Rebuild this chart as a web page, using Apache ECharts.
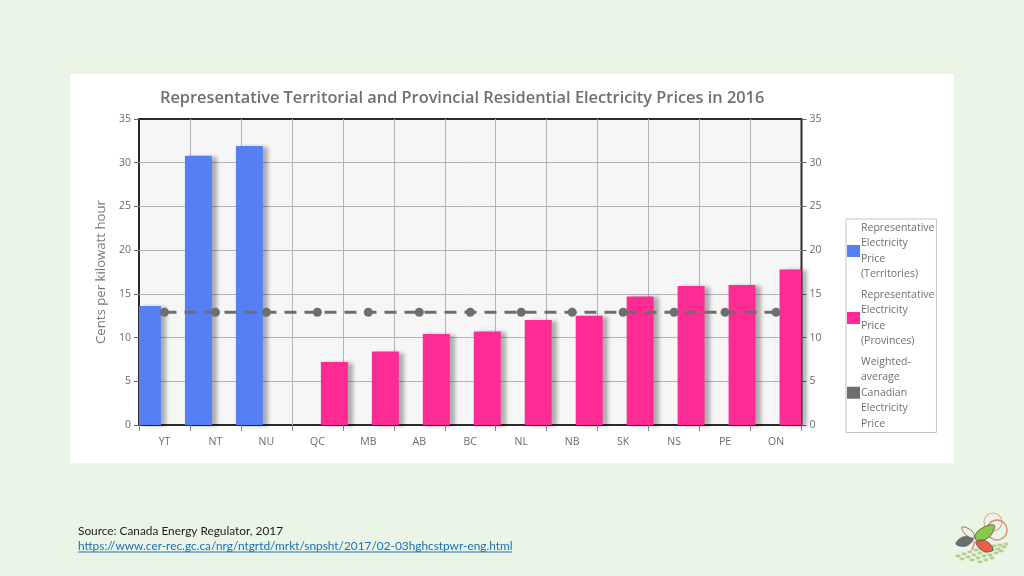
<!DOCTYPE html>
<html><head><meta charset="utf-8">
<style>html,body{margin:0;padding:0;background:#eaf5e6}#c{width:1024px;height:576px}</style>
<script src="https://cdn.jsdelivr.net/npm/echarts@6/dist/echarts.min.js"></script>
</head><body><div id="c"></div>
<script>
const categories=['YT','NT','NU','QC','MB','AB','BC','NL','NB','SK','NS','PE','ON'];
const territories=[13.6,30.8,31.9,null,null,null,null,null,null,null,null,null,null];
const provinces=[null,null,null,7.2,8.4,10.4,10.7,12.0,12.5,14.7,15.9,16.0,17.8];
const average=[12.9,12.9,12.9,12.9,12.9,12.9,12.9,12.9,12.9,12.9,12.9,12.9,12.9];
const seriesNames=['Representative\nElectricity\nPrice\n(Territories)','Representative\nElectricity\nPrice\n(Provinces)','Weighted-\naverage\nCanadian\nElectricity\nPrice'];
const chartTitle='Representative Territorial and Provincial Residential Electricity Prices in 2016';
const yName='Cents per kilowatt hour';
const yTicks={min:0,max:35,interval:5};
const sourceText='Source: Canada Energy Regulator, 2017';
const linkText='https://www.cer-rec.gc.ca/nrg/ntgrtd/mrkt/snpsht/2017/02-03hghcstpwr-eng.html';
const font='"Open Sans"';
const barShadow={shadowColor:'rgba(0,0,0,0.3)',shadowBlur:4,shadowOffsetX:5,shadowOffsetY:1};
const dots=[[958,556],[964,554],[970,552],[976,550],[982,549],[988,547],[994,546],[1000,545],[1006,544],
[962,559],[968,557],[974,555],[980,553],[986,552],[992,550],[998,549],[1004,547],
[972,560],[978,558],[984,556],[990,555],[996,553],[1001,551],[980,562],[986,560],[992,558]];
const chart=echarts.init(document.getElementById('c'),null,{renderer:'canvas'});
const axisLabel={color:'#6a6a6a',fontSize:10.5,fontFamily:font};
const split={show:true,showMinLine:false,showMaxLine:false,lineStyle:{color:'#b4b4b4',width:1}};
const leaf=(pts,fill)=>({type:'polygon',z:5,shape:{points:pts,smooth:0.4},style:{fill,stroke:'#444',lineWidth:.7}});
chart.setOption({
 animation:false,
 backgroundColor:'#eaf5e6',
 title:{text:chartTitle,left:155,top:85,textStyle:{color:'#6f6f6f',fontSize:16.35,fontWeight:600,fontFamily:font}},
 grid:{left:139,right:222.5,top:119,bottom:151,show:true,backgroundColor:'#f6f6f6',borderColor:'#2b2b2b',borderWidth:2,z:0},
 legend:{orient:'vertical',left:846,top:219,width:90,padding:[1,2,1,1],itemGap:5,itemWidth:13,itemHeight:12,
  backgroundColor:'#ffffff',borderColor:'#c4c4c4',borderWidth:1,borderRadius:0,
  textStyle:{color:'#6f6f6f',fontSize:10.5,lineHeight:15.5,fontFamily:font,padding:[0,0,0,-4]},
  data:[{name:seriesNames[0],icon:'rect'},{name:seriesNames[1],icon:'rect'},{name:seriesNames[2],icon:'rect'}]},
 xAxis:{type:'category',data:categories,boundaryGap:true,z:1,
  axisLine:{show:false},axisTick:{show:true,length:6,lineStyle:{color:'#888'},alignWithLabel:false},
  axisLabel:{...axisLabel,margin:12},
  splitLine:split},
 yAxis:[
  {type:'value',...yTicks,position:'left',z:1,name:yName,nameLocation:'middle',nameGap:31,
   nameTextStyle:{color:'#777',fontSize:13.2,fontFamily:font},
   axisLine:{show:false},axisTick:{show:true,length:5,lineStyle:{color:'#666'}},axisLabel:{...axisLabel,margin:8},
   splitLine:split},
  {type:'value',...yTicks,position:'right',z:1,
   axisLine:{show:false},axisTick:{show:true,length:5,lineStyle:{color:'#666'}},axisLabel:{...axisLabel,margin:8},
   splitLine:{show:false}}
 ],
 series:[
  {name:seriesNames[0],type:'bar',data:territories,barWidth:27,barGap:'26%',z:3,itemStyle:{color:'#5580f5',...barShadow}},
  {name:seriesNames[1],type:'bar',data:provinces,barWidth:27,barGap:'26%',z:3,itemStyle:{color:'#ff2b95',...barShadow}},
  {name:seriesNames[2],type:'line',data:average,z:4,symbol:'circle',symbolSize:9,
   lineStyle:{color:'#6e6e6e',width:3,type:[12,8]},itemStyle:{color:'#6e6e6e'}}
 ],
 graphic:[
  {type:'rect',z:-10,silent:true,shape:{x:70,y:74,width:884,height:389},style:{fill:'#ffffff'}},
  {type:'text',x:78,y:525,style:{text:sourceText,fill:'#1c1c1c',font:'11.85px Lato, sans-serif'}},
  {type:'text',x:78,y:540,style:{text:linkText,fill:'#1a6fb5',font:'11.85px Lato, sans-serif'}},
  {type:'line',shape:{x1:78,y1:552,x2:512,y2:552},style:{stroke:'#1a6fb5',lineWidth:1}},
  {type:'circle',shape:{cx:993,cy:522,r:9},style:{fill:'none',stroke:'#e0a79a',lineWidth:1.2}},
  {type:'circle',shape:{cx:997,cy:530,r:10},style:{fill:'none',stroke:'#e58a78',lineWidth:1.4}},
  leaf([[975,539],[979,530],[994,525],[991,535],[983,540]],'#8cc84b'),
  leaf([[976,542],[986,541],[993,550],[983,551]],'#ea5f45'),
  leaf([[973,539],[963,537],[956,544],[966,546]],'#6a6f72'),
  leaf([[974,538],[972,531],[962,527],[966,535]],'#f3f4e2'),
  {type:'line',z:5,shape:{x1:975,y1:541,x2:972,y2:550},style:{stroke:'#d98a8a',lineWidth:1.6}},
  ...dots.map(d=>({type:'circle',x:d[0],y:d[1],scaleY:0.52,shape:{cx:0,cy:0,r:2.7},style:{fill:'#b3cf8e'}}))
 ]
});
</script></body></html>
